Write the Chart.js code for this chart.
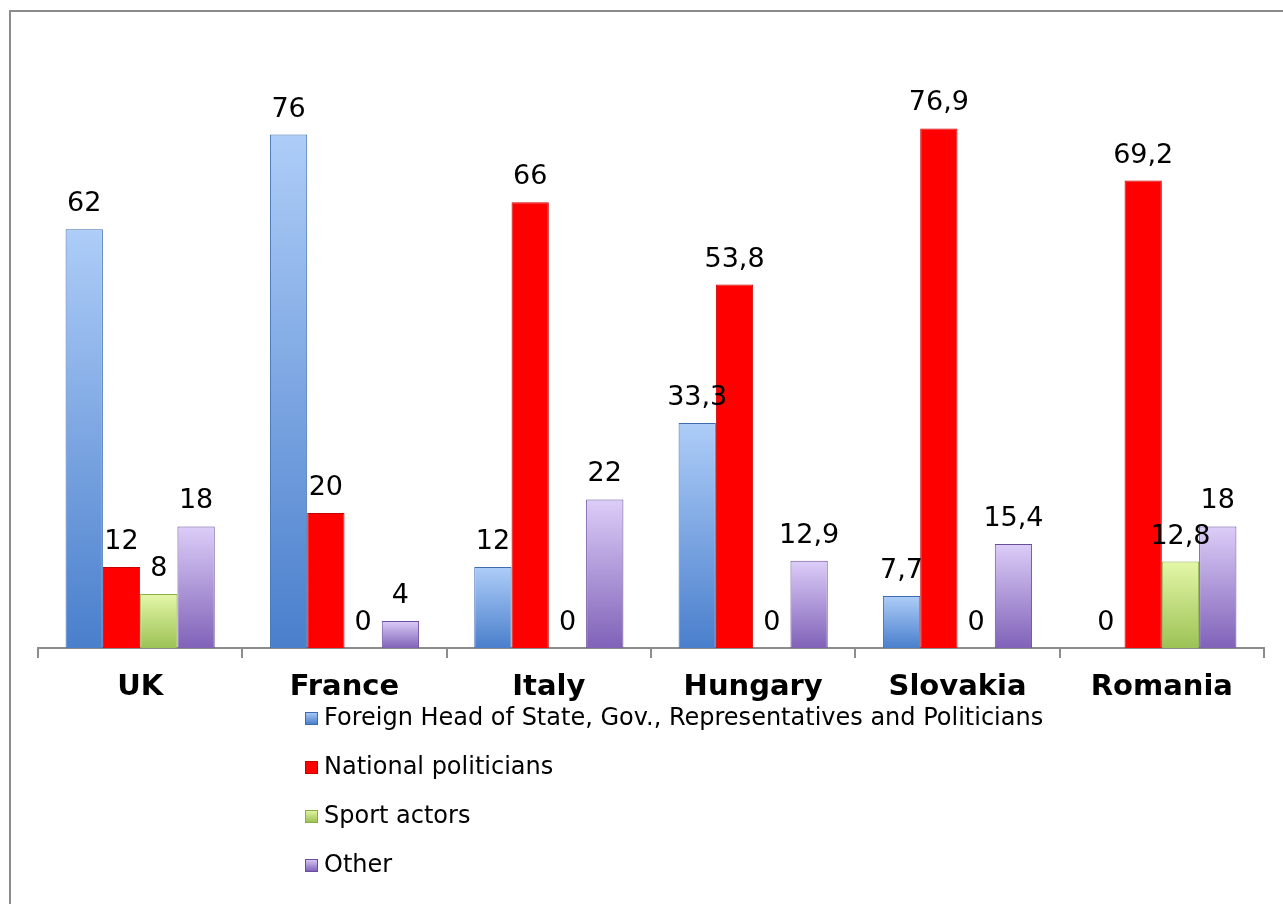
<!DOCTYPE html>
<html>
<head>
<meta charset="utf-8">
<script src="https://cdn.jsdelivr.net/npm/chart.js@4/dist/chart.umd.min.js"></script>
<style>
  html, body { margin: 0; padding: 0; background: #ffffff; overflow: hidden; }
  #frame { position: absolute; left: 9px; top: 10px; width: 1300px; height: 920px; border: 2px solid #8c8c8c; box-sizing: border-box; }
  #c { position: absolute; left: 0; top: 0; }
</style>
</head>
<body>
<div id="frame"></div>
<canvas id="c" width="1283" height="904"></canvas>
<script>
const categories = ['UK', 'France', 'Italy', 'Hungary', 'Slovakia', 'Romania'];
const seriesNames = [
  'Foreign Head of State, Gov., Representatives and Politicians',
  'National politicians',
  'Sport actors',
  'Other'
];
const foreignHeads = [62, 76, 12, 33.3, 7.7, 0];
const nationalPoliticians = [12, 20, 66, 53.8, 76.9, 69.2];
const sportActors = [8, 0, 0, 0, 0, 12.8];
const other = [18, 4, 22, 12.9, 15.4, 18];
const topColors = ['#aecdf8', '#ff0000', '#e4f7a8', '#dccdf8'];
const bottomColors = ['#4a7fcc', '#ff0000', '#9cc255', '#8062b8'];
const edgeColors = ['#3d6cb0', '#c80000', '#8aad48', '#6a4d9c'];
const yMax = 90;

function barFill(i) {
  return (ctx) => {
    const chart = ctx.chart;
    const area = chart.chartArea;
    if (!area || ctx.type !== 'data' || !chart.scales.y) return bottomColors[i];
    const v = ctx.raw;
    const yTop = chart.scales.y.getPixelForValue(v);
    const base = chart.scales.y.getPixelForValue(0);
    if (base - yTop < 1) return bottomColors[i];
    const g = chart.ctx.createLinearGradient(0, yTop, 0, base);
    g.addColorStop(0, topColors[i]);
    g.addColorStop(1, bottomColors[i]);
    return g;
  };
}

const seriesValues = [foreignHeads, nationalPoliticians, sportActors, other];

const valueLabels = {
  id: 'valueLabels',
  afterDatasetsDraw(chart) {
    const ctx = chart.ctx;
    ctx.save();
    ctx.font = '27px "DejaVu Sans"';
    ctx.fillStyle = '#000000';
    ctx.textAlign = 'center';
    ctx.textBaseline = 'alphabetic';
    chart.data.datasets.forEach((ds, di) => {
      const meta = chart.getDatasetMeta(di);
      meta.data.forEach((el, i) => {
        const v = ds.data[i];
        const txt = String(v).replace('.', ',');
        ctx.fillText(txt, el.x, el.y - 18);
      });
    });
    ctx.restore();
  }
};

const stackedLegend = {
  id: 'stackedLegend',
  afterDraw(chart) {
    const ctx = chart.ctx;
    ctx.save();
    ctx.font = '24px "DejaVu Sans"';
    ctx.textAlign = 'left';
    ctx.textBaseline = 'middle';
    const x0 = 305, rows = [718, 767, 816, 865];
    chart.data.datasets.forEach((ds, i) => {
      const y = rows[i];
      const g = ctx.createLinearGradient(0, y - 6, 0, y + 6);
      g.addColorStop(0, topColors[i]);
      g.addColorStop(1, bottomColors[i]);
      ctx.fillStyle = g;
      ctx.fillRect(x0, y - 6, 13, 13);
      ctx.strokeStyle = edgeColors[i];
      ctx.lineWidth = 1;
      ctx.strokeRect(x0 + 0.5, y - 5.5, 12, 12);
      ctx.fillStyle = '#000000';
      ctx.fillText(ds.label, x0 + 19, y + 1);
    });
    ctx.restore();
  }
};

new Chart(document.getElementById('c'), {
  type: 'bar',
  data: {
    labels: categories,
    datasets: seriesValues.map((vals, i) => ({
      label: seriesNames[i],
      data: vals,
      backgroundColor: barFill(i),
      borderColor: edgeColors[i],
      borderWidth: 1,
      categoryPercentage: 0.73,
      barPercentage: 1.0
    }))
  },
  options: {
    responsive: false,
    animation: false,
    devicePixelRatio: 1,
    layout: { padding: { top: 40, left: 38, right: 19, bottom: 0 } },
    plugins: { legend: { display: false }, tooltip: { enabled: false } },
    scales: {
      x: {
        afterFit(scale) { scale.height = 904 - 648; },
        grid: { display: true, drawOnChartArea: false, offset: true, tickLength: 10, color: '#8c8c8c', lineWidth: 2 },
        border: { display: true, color: '#8c8c8c', width: 2 },
        ticks: { color: '#000000', font: { family: 'DejaVu Sans', size: 29, weight: 'bold' }, padding: 12 }
      },
      y: {
        display: false,
        min: 0,
        max: yMax
      }
    }
  },
  plugins: [valueLabels, stackedLegend]
});
</script>
</body>
</html>
